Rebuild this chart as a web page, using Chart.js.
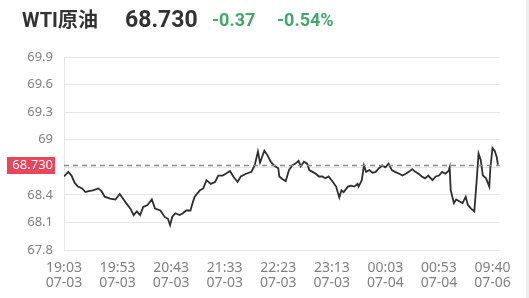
<!DOCTYPE html>
<html>
<head>
<meta charset="utf-8">
<script src="https://cdn.jsdelivr.net/npm/chart.js@4"></script>
<style>
  html, body { margin: 0; padding: 0; background: #fff; }
  body { width: 529px; height: 298px; position: relative; overflow: hidden; font-family: Roboto, "Noto Sans CJK SC", sans-serif; }
  #chart-wrap { position: absolute; left: 0; top: 0; width: 529px; height: 298px; }
  .head { position: absolute; line-height: 1; font-weight: 700; white-space: nowrap; }
  #title { left: 22px; top: 10px; font-size: 20px; color: #333; }
  #last { left: 125px; top: 8px; font-size: 23px; color: #333; }
  #change { left: 212px; top: 11px; font-size: 18px; color: #43a86a; }
  #change-pct { left: 277px; top: 11px; font-size: 18px; color: #43a86a; }
  #edge { position: absolute; right: 0; top: 0; width: 3px; height: 298px; background: #eeeeee; }
</style>
</head>
<body>
<div id="chart-wrap"><canvas id="price-chart"></canvas></div>
<div class="head" id="title">WTI原油</div>
<div class="head" id="last">68.730</div>
<div class="head" id="change">-0.37</div>
<div class="head" id="change-pct">-0.54%</div>
<div id="edge"></div>
<script>
// sample index along the session (ticks every 50 samples)
const sampleIndex = [
  0, 4, 7, 10, 13, 17, 20, 23, 27, 32, 35, 38, 43, 48, 52, 55, 58, 62, 65, 68,
  71, 74, 78, 82, 85, 90, 94, 97, 99, 101, 104, 108, 111, 114, 118, 120, 122, 127, 130, 133,
  137, 141, 144, 148, 151, 155, 158, 162, 165, 170, 175, 178, 181, 183, 187, 190, 193, 196, 200, 201,
  204, 207, 210, 213, 216, 219, 221, 224, 227, 229, 232, 235, 238, 241, 244, 247, 251, 254, 257, 259,
  261, 265, 268, 271, 274, 275, 278, 280, 282, 285, 288, 291, 294, 297, 300, 303, 306, 309, 313, 316,
  319, 322, 325, 328, 331, 334, 337, 340, 344, 347, 350, 353, 356, 359, 360, 361, 364, 366, 369, 372,
  375, 377, 380, 383, 385, 387, 389, 391, 394, 397, 398, 400, 402, 404, 405
];
const prices = [
  68.60, 68.65, 68.61, 68.53, 68.49, 68.47, 68.43, 68.44, 68.45, 68.47, 68.44, 68.38, 68.36, 68.35, 68.41, 68.36, 68.31, 68.25, 68.18, 68.22,
  68.18, 68.27, 68.29, 68.35, 68.25, 68.23, 68.16, 68.14, 68.07, 68.16, 68.20, 68.18, 68.20, 68.23, 68.23, 68.31, 68.38, 68.45, 68.47, 68.56,
  68.52, 68.54, 68.61, 68.61, 68.63, 68.66, 68.60, 68.54, 68.60, 68.63, 68.65, 68.72, 68.87, 68.75, 68.88, 68.83, 68.76, 68.72, 68.69, 68.60,
  68.57, 68.55, 68.67, 68.72, 68.74, 68.77, 68.71, 68.76, 68.74, 68.67, 68.65, 68.63, 68.60, 68.60, 68.58, 68.60, 68.54, 68.49, 68.37, 68.45,
  68.43, 68.49, 68.50, 68.49, 68.52, 68.49, 68.56, 68.72, 68.65, 68.67, 68.64, 68.65, 68.69, 68.72, 68.70, 68.74, 68.67, 68.65, 68.63, 68.61,
  68.63, 68.65, 68.68, 68.65, 68.63, 68.60, 68.58, 68.61, 68.56, 68.60, 68.61, 68.65, 68.63, 68.66, 68.70, 68.45, 68.31, 68.35, 68.33, 68.31,
  68.38, 68.29, 68.25, 68.22, 68.52, 68.85, 68.78, 68.61, 68.58, 68.49, 68.69, 68.91, 68.88, 68.81, 68.73
];

const PREV_CLOSE = 68.73;
const xTickIndex = [0, 50, 100, 150, 200, 250, 300, 350, 400];
const xTickTimes = ["19:03", "19:53", "20:43", "21:33", "22:23", "23:13", "00:03", "00:53", "09:40"];
const xTickDates = ["07-03", "07-03", "07-03", "07-03", "07-03", "07-03", "07-04", "07-04", "07-06"];
const yTicks = [67.8, 68.1, 68.4, 68.7, 69.0, 69.3, 69.6, 69.9];
const X_MAX = 407;

const GRID_COLOR = "#e5e5e5";
const TICK_COLOR = "#808080";

// dashed line for the reference price plus the red tag on the y axis
const closeLinePlugin = {
  id: "closeLine",
  afterDatasetsDraw(chart) {
    const { ctx, chartArea, scales } = chart;
    const y = Math.round(scales.y.getPixelForValue(PREV_CLOSE)) + 0.5;

    ctx.save();
    ctx.strokeStyle = "#8c8c8c";
    ctx.lineWidth = 1.5;
    ctx.setLineDash([5, 4]);
    ctx.beginPath();
    ctx.moveTo(chartArea.left, y);
    ctx.lineTo(chartArea.right, y);
    ctx.stroke();

    ctx.setLineDash([]);
    ctx.fillStyle = "#e8475b";
    ctx.fillRect(7, y - 8.5, 48, 17);
    ctx.fillStyle = "#fff";
    ctx.font = "13px 'Noto Sans', sans-serif";
    ctx.textAlign = "right";
    ctx.textBaseline = "middle";
    ctx.fillText(PREV_CLOSE.toFixed(3), 53, y);
    ctx.restore();
  }
};

const chart = new Chart(document.querySelector("#price-chart"), {
  type: "line",
  plugins: [closeLinePlugin],
  data: {
    datasets: [
      {
        data: sampleIndex.map((x, i) => ({ x, y: prices[i] })),
        borderColor: "#2e2e2e",
        borderWidth: 1.8,
        pointRadius: 0,
        tension: 0,
        fill: false
      }
    ]
  },
  options: {
    responsive: true,
    maintainAspectRatio: false,
    animation: false,
    layout: { padding: { top: 57, right: 29, bottom: 0, left: 0 } },
    plugins: {
      legend: { display: false },
      tooltip: { enabled: false }
    },
    scales: {
      x: {
        type: "linear",
        min: 0,
        max: X_MAX,
        afterBuildTicks(scale) {
          scale.ticks = xTickIndex.map((value) => ({ value }));
        },
        afterFit(scale) {
          scale.height = 48;
        },
        grid: { display: false, drawTicks: false },
        border: { display: false },
        ticks: {
          color: TICK_COLOR,
          font: { family: "'Noto Sans', sans-serif", size: 14, lineHeight: 1.05 },
          padding: 11,
          maxRotation: 0,
          autoSkip: false,
          callback(value) {
            const i = xTickIndex.indexOf(value);
            return i < 0 ? "" : [xTickTimes[i], xTickDates[i]];
          }
        }
      },
      y: {
        min: 67.8,
        max: 69.9,
        afterBuildTicks(scale) {
          scale.ticks = yTicks.map((value) => ({ value }));
        },
        afterFit(scale) {
          scale.width = 64;
        },
        grid: { color: GRID_COLOR, lineWidth: 1, drawTicks: false },
        border: { display: true, color: GRID_COLOR },
        ticks: {
          color: TICK_COLOR,
          font: { family: "'Noto Sans', sans-serif", size: 13 },
          padding: 11,
          callback(value) {
            // the 68.7 label sits under the red price tag
            if (Math.abs(value - 68.7) < 1e-6) {
              return "";
            }
            return Number(value.toFixed(1)).toString();
          }
        }
      }
    }
  }
});
</script>
</body>
</html>
